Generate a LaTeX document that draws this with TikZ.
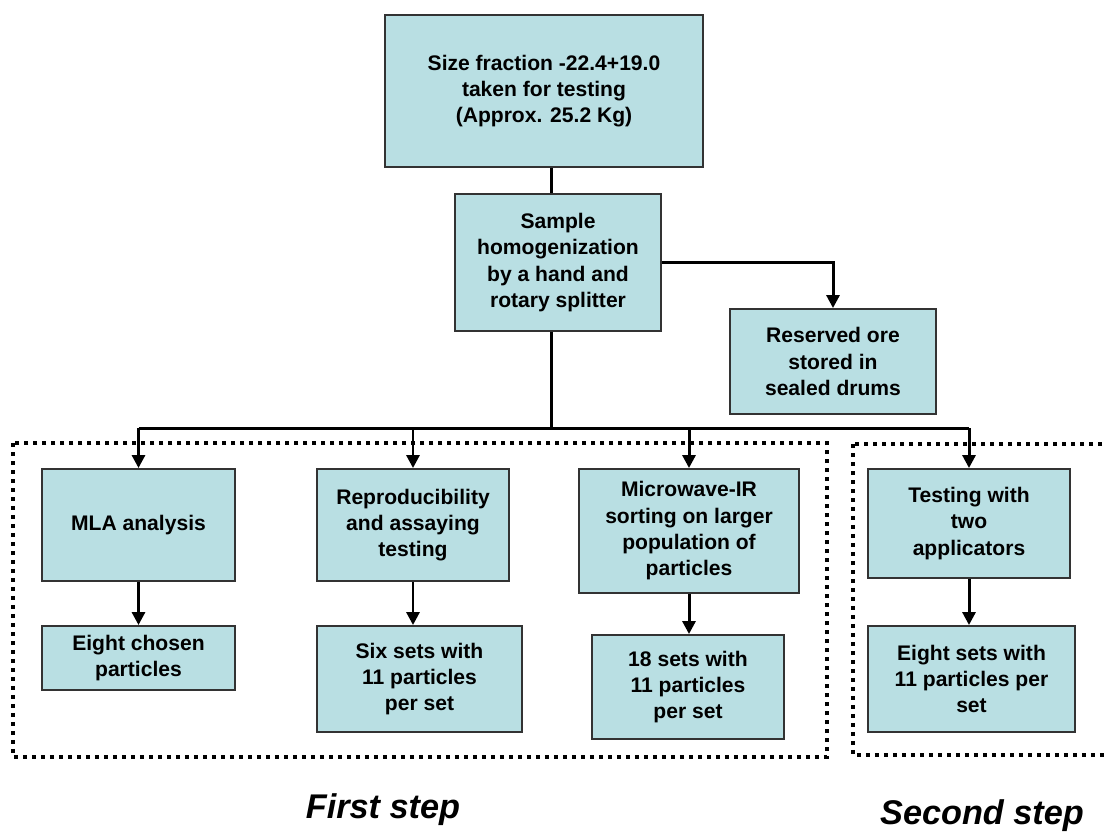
\documentclass[tikz,border=0pt]{standalone}
\usepackage{fontspec}
\setmainfont{Liberation Sans}
\usetikzlibrary{arrows.meta,positioning}
\definecolor{BoxFill}{HTML}{B9DFE3}
\definecolor{BoxLine}{HTML}{333333}

\begin{document}
\begin{tikzpicture}[
  x=0.02cm, y=-0.02cm,
  box/.style={rectangle, draw=BoxLine, fill=BoxFill, line width=1.1pt,
              font=\bfseries\fontsize{12}{15}\selectfont, align=center, inner sep=2pt},
  frame/.style={draw=black, line width=0.08cm, dash pattern=on 0.08cm off 0.1cm},
  conn/.style={line width=1.7pt},
  arr/.style={-{Triangle[length=0.26cm, width=0.26cm]}, line width=1.7pt},
  steplbl/.style={font=\bfseries\itshape\fontsize{19.5}{23}\selectfont},
]
  \path[use as bounding box] (0,0) rectangle (1105,832);
  \clip (0,0) rectangle (1105,832);

  % Dotted frames for the two steps
  \draw[frame] (13,443) rectangle (827,757);
  \draw[frame] (853,444) rectangle (1130,755);

  % Preparation
  \node[box, minimum width=6.36cm, minimum height=3.04cm] (size) at (544,91)
    {Size fraction -22.4+19.0\\taken for testing\\(Approx. 25.2 Kg)};
  \node[box, minimum width=4.12cm, minimum height=2.74cm] (sample) at (558,262.5)
    {Sample\\homogenization\\by a hand and\\rotary splitter};
  \node[box, minimum width=4.12cm, minimum height=2.1cm] (reserved) at (833,361.5)
    {Reserved ore\\stored in\\sealed drums};

  % Tests
  \node[box, minimum width=3.86cm, minimum height=2.24cm] (mla) at (138.5,525) {MLA analysis};
  \node[box, minimum width=3.84cm, minimum height=2.24cm] (repro) at (413,525)
    {Reproducibility\\and assaying\\testing};
  \node[box, minimum width=4.4cm, minimum height=2.48cm] (micro) at (689,531)
    {Microwave-IR\\sorting on larger\\population of\\particles};
  \node[box, minimum width=4.04cm, minimum height=2.18cm] (testing) at (969,523.5)
    {Testing with\\two\\applicators};

  % Particle sets
  \node[box, minimum width=3.86cm, minimum height=1.28cm] (chosen) at (138.5,658)
    {Eight chosen\\particles};
  \node[box, minimum width=4.1cm, minimum height=2.12cm] (sixsets) at (419.5,679)
    {Six sets with\\11 particles\\per set};
  \node[box, minimum width=3.84cm, minimum height=2.08cm] (eighteen) at (688,687)
    {18 sets with\\11 particles\\per set};
  \node[box, minimum width=4.14cm, minimum height=2.12cm] (eightsets) at (971.5,679)
    {Eight sets with\\11 particles per\\set};

  % Step captions
  \node[steplbl] (first) at (383,810) {First step};
  \node[steplbl] (second) at (982,816) {Second step};

  % Connectors
  \coordinate (split) at (551,428);
  \draw[conn] (size.south -| split) -- (sample.north -| split);
  \draw[conn] (sample.south -| split) -- (split);
  \draw[arr] (sample.east) -| (reserved.north);
  \draw[conn] (mla.north |- split) -- (testing.north |- split);
  \foreach \b in {mla,repro,micro,testing}
    \draw[arr] (\b.north |- split) -- (\b.north);
  \draw[arr] (mla.south) -- (mla.south |- chosen.north);
  \draw[arr] (repro.south) -- (repro.south |- sixsets.north);
  \draw[arr] (micro.south) -- (micro.south |- eighteen.north);
  \draw[arr] (testing.south) -- (testing.south |- eightsets.north);
\end{tikzpicture}
\end{document}
